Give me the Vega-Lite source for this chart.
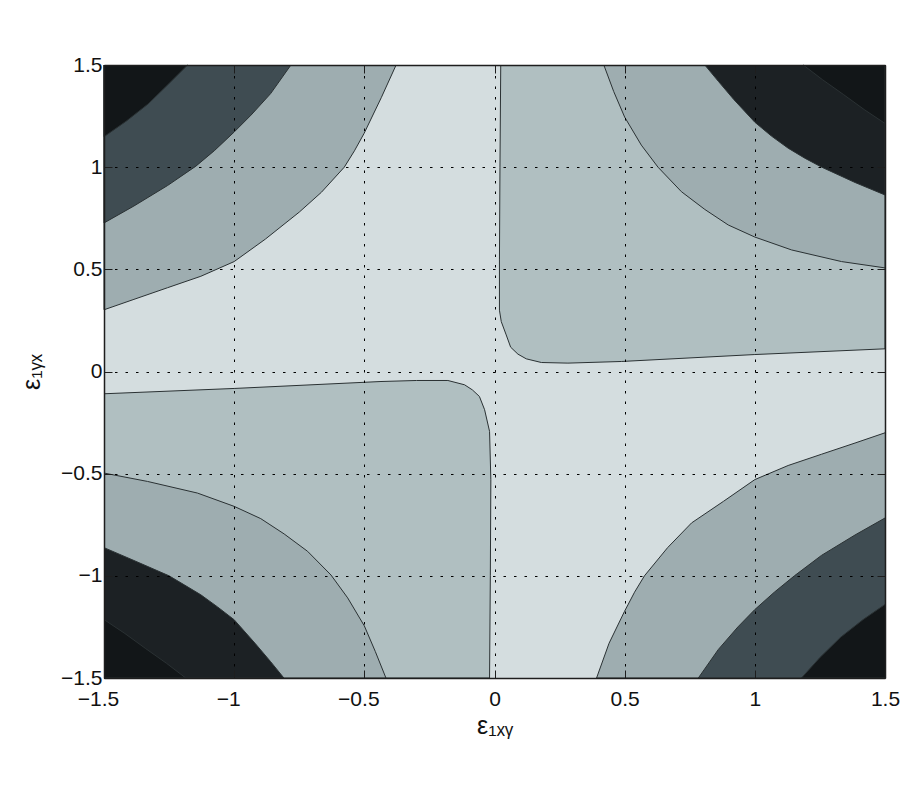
{
  "$schema": "https://vega.github.io/schema/vega-lite/v6.json",
  "width": 781,
  "height": 613,
  "autosize": {"type": "none"},
  "padding": {"left": 104, "top": 65, "right": 15, "bottom": 122},
  "config": {
    "view": {"fill": "#d4dddf", "stroke": null},
    "font": "Liberation Sans",
    "axis": {
      "labelFont": "Liberation Sans",
      "titleFont": "Liberation Sans",
      "labelFontSize": 21,
      "labelColor": "#111111",
      "titleFontSize": 25,
      "titleFontWeight": "normal",
      "titleColor": "#111111",
      "domainColor": "#1e1e1e",
      "domainWidth": 1.5,
      "tickColor": "#1e1e1e",
      "tickWidth": 1,
      "tickSize": -8,
      "gridColor": "#000000",
      "gridOpacity": 1,
      "gridWidth": 1,
      "gridDash": [2.5, 8],
      "labelFlush": false,
      "labelOverlap": false
    }
  },
  "data": {
    "values": [
      {"p": "UR1", "lv": "L1", "i": 0, "x": 0.024, "y": 1.5},
      {"p": "UR1", "lv": "L1", "i": 1, "x": 0.021, "y": 1.0},
      {"p": "UR1", "lv": "L1", "i": 2, "x": 0.019, "y": 0.546},
      {"p": "UR1", "lv": "L1", "i": 3, "x": 0.019, "y": 0.3},
      {"p": "UR1", "lv": "L1", "i": 4, "x": 0.026, "y": 0.244},
      {"p": "UR1", "lv": "L1", "i": 5, "x": 0.045, "y": 0.179},
      {"p": "UR1", "lv": "L1", "i": 6, "x": 0.062, "y": 0.119},
      {"p": "UR1", "lv": "L1", "i": 7, "x": 0.09, "y": 0.085},
      {"p": "UR1", "lv": "L1", "i": 8, "x": 0.122, "y": 0.062},
      {"p": "UR1", "lv": "L1", "i": 9, "x": 0.18, "y": 0.044},
      {"p": "UR1", "lv": "L1", "i": 10, "x": 0.282, "y": 0.041},
      {"p": "UR1", "lv": "L1", "i": 11, "x": 0.487, "y": 0.049},
      {"p": "UR1", "lv": "L1", "i": 12, "x": 1.0, "y": 0.083},
      {"p": "UR1", "lv": "L1", "i": 13, "x": 1.5, "y": 0.111},
      {"p": "UR1", "lv": "L1", "i": 14, "x": 1.5, "y": 1.5},

      {"p": "LL1", "lv": "L1", "i": 0, "x": -1.5, "y": -0.109},
      {"p": "LL1", "lv": "L1", "i": 1, "x": -1.0, "y": -0.083},
      {"p": "LL1", "lv": "L1", "i": 2, "x": -0.436, "y": -0.049},
      {"p": "LL1", "lv": "L1", "i": 3, "x": -0.3, "y": -0.044},
      {"p": "LL1", "lv": "L1", "i": 4, "x": -0.179, "y": -0.044},
      {"p": "LL1", "lv": "L1", "i": 5, "x": -0.115, "y": -0.065},
      {"p": "LL1", "lv": "L1", "i": 6, "x": -0.085, "y": -0.09},
      {"p": "LL1", "lv": "L1", "i": 7, "x": -0.058, "y": -0.122},
      {"p": "LL1", "lv": "L1", "i": 8, "x": -0.038, "y": -0.187},
      {"p": "LL1", "lv": "L1", "i": 9, "x": -0.019, "y": -0.293},
      {"p": "LL1", "lv": "L1", "i": 10, "x": -0.014, "y": -0.53},
      {"p": "LL1", "lv": "L1", "i": 11, "x": -0.016, "y": -1.0},
      {"p": "LL1", "lv": "L1", "i": 12, "x": -0.019, "y": -1.5},
      {"p": "LL1", "lv": "L1", "i": 13, "x": -1.5, "y": -1.5},

      {"p": "UR2", "lv": "L2", "i": 0, "x": 0.42, "y": 1.5},
      {"p": "UR2", "lv": "L2", "i": 1, "x": 0.458, "y": 1.37},
      {"p": "UR2", "lv": "L2", "i": 2, "x": 0.5, "y": 1.245},
      {"p": "UR2", "lv": "L2", "i": 3, "x": 0.564, "y": 1.108},
      {"p": "UR2", "lv": "L2", "i": 4, "x": 0.628, "y": 1.0},
      {"p": "UR2", "lv": "L2", "i": 5, "x": 0.718, "y": 0.88},
      {"p": "UR2", "lv": "L2", "i": 6, "x": 0.808, "y": 0.793},
      {"p": "UR2", "lv": "L2", "i": 7, "x": 0.898, "y": 0.717},
      {"p": "UR2", "lv": "L2", "i": 8, "x": 1.0, "y": 0.658},
      {"p": "UR2", "lv": "L2", "i": 9, "x": 1.141, "y": 0.595},
      {"p": "UR2", "lv": "L2", "i": 10, "x": 1.333, "y": 0.538},
      {"p": "UR2", "lv": "L2", "i": 11, "x": 1.5, "y": 0.507},
      {"p": "UR2", "lv": "L2", "i": 12, "x": 1.5, "y": 1.5},

      {"p": "LL2", "lv": "L2", "i": 0, "x": -1.5, "y": -0.497},
      {"p": "LL2", "lv": "L2", "i": 1, "x": -1.333, "y": -0.538},
      {"p": "LL2", "lv": "L2", "i": 2, "x": -1.141, "y": -0.595},
      {"p": "LL2", "lv": "L2", "i": 3, "x": -1.0, "y": -0.66},
      {"p": "LL2", "lv": "L2", "i": 4, "x": -0.898, "y": -0.72},
      {"p": "LL2", "lv": "L2", "i": 5, "x": -0.808, "y": -0.795},
      {"p": "LL2", "lv": "L2", "i": 6, "x": -0.718, "y": -0.88},
      {"p": "LL2", "lv": "L2", "i": 7, "x": -0.628, "y": -0.996},
      {"p": "LL2", "lv": "L2", "i": 8, "x": -0.564, "y": -1.108},
      {"p": "LL2", "lv": "L2", "i": 9, "x": -0.5, "y": -1.245},
      {"p": "LL2", "lv": "L2", "i": 10, "x": -0.458, "y": -1.37},
      {"p": "LL2", "lv": "L2", "i": 11, "x": -0.417, "y": -1.5},
      {"p": "LL2", "lv": "L2", "i": 12, "x": -1.5, "y": -1.5},

      {"p": "UL2", "lv": "L2", "i": 0, "x": -0.378, "y": 1.5},
      {"p": "UL2", "lv": "L2", "i": 1, "x": -0.435, "y": 1.34},
      {"p": "UL2", "lv": "L2", "i": 2, "x": -0.501, "y": 1.165},
      {"p": "UL2", "lv": "L2", "i": 3, "x": -0.538, "y": 1.08},
      {"p": "UL2", "lv": "L2", "i": 4, "x": -0.577, "y": 1.0},
      {"p": "UL2", "lv": "L2", "i": 5, "x": -0.665, "y": 0.877},
      {"p": "UL2", "lv": "L2", "i": 6, "x": -0.75, "y": 0.78},
      {"p": "UL2", "lv": "L2", "i": 7, "x": -0.88, "y": 0.648},
      {"p": "UL2", "lv": "L2", "i": 8, "x": -1.0, "y": 0.538},
      {"p": "UL2", "lv": "L2", "i": 9, "x": -1.128, "y": 0.466},
      {"p": "UL2", "lv": "L2", "i": 10, "x": -1.256, "y": 0.41},
      {"p": "UL2", "lv": "L2", "i": 11, "x": -1.385, "y": 0.353},
      {"p": "UL2", "lv": "L2", "i": 12, "x": -1.5, "y": 0.302},
      {"p": "UL2", "lv": "L2", "i": 13, "x": -1.5, "y": 1.5},

      {"p": "LR2", "lv": "L2", "i": 0, "x": 1.5, "y": -0.3},
      {"p": "LR2", "lv": "L2", "i": 1, "x": 1.385, "y": -0.35},
      {"p": "LR2", "lv": "L2", "i": 2, "x": 1.256, "y": -0.405},
      {"p": "LR2", "lv": "L2", "i": 3, "x": 1.128, "y": -0.46},
      {"p": "LR2", "lv": "L2", "i": 4, "x": 1.0, "y": -0.529},
      {"p": "LR2", "lv": "L2", "i": 5, "x": 0.88, "y": -0.635},
      {"p": "LR2", "lv": "L2", "i": 6, "x": 0.757, "y": -0.741},
      {"p": "LR2", "lv": "L2", "i": 7, "x": 0.665, "y": -0.862},
      {"p": "LR2", "lv": "L2", "i": 8, "x": 0.576, "y": -1.0},
      {"p": "LR2", "lv": "L2", "i": 9, "x": 0.538, "y": -1.08},
      {"p": "LR2", "lv": "L2", "i": 10, "x": 0.499, "y": -1.175},
      {"p": "LR2", "lv": "L2", "i": 11, "x": 0.44, "y": -1.33},
      {"p": "LR2", "lv": "L2", "i": 12, "x": 0.392, "y": -1.5},
      {"p": "LR2", "lv": "L2", "i": 13, "x": 1.5, "y": -1.5},

      {"p": "UL3", "lv": "L3", "i": 0, "x": -0.782, "y": 1.5},
      {"p": "UL3", "lv": "L3", "i": 1, "x": -0.86, "y": 1.36},
      {"p": "UL3", "lv": "L3", "i": 2, "x": -0.935, "y": 1.255},
      {"p": "UL3", "lv": "L3", "i": 3, "x": -1.0, "y": 1.172},
      {"p": "UL3", "lv": "L3", "i": 4, "x": -1.075, "y": 1.082},
      {"p": "UL3", "lv": "L3", "i": 5, "x": -1.147, "y": 1.005},
      {"p": "UL3", "lv": "L3", "i": 6, "x": -1.256, "y": 0.91},
      {"p": "UL3", "lv": "L3", "i": 7, "x": -1.385, "y": 0.81},
      {"p": "UL3", "lv": "L3", "i": 8, "x": -1.5, "y": 0.727},
      {"p": "UL3", "lv": "L3", "i": 9, "x": -1.5, "y": 1.5},

      {"p": "LR3", "lv": "L3", "i": 0, "x": 1.5, "y": -0.717},
      {"p": "LR3", "lv": "L3", "i": 1, "x": 1.385, "y": -0.8},
      {"p": "LR3", "lv": "L3", "i": 2, "x": 1.256, "y": -0.9},
      {"p": "LR3", "lv": "L3", "i": 3, "x": 1.152, "y": -1.0},
      {"p": "LR3", "lv": "L3", "i": 4, "x": 1.075, "y": -1.08},
      {"p": "LR3", "lv": "L3", "i": 5, "x": 1.0, "y": -1.165},
      {"p": "LR3", "lv": "L3", "i": 6, "x": 0.935, "y": -1.25},
      {"p": "LR3", "lv": "L3", "i": 7, "x": 0.86, "y": -1.36},
      {"p": "LR3", "lv": "L3", "i": 8, "x": 0.783, "y": -1.5},
      {"p": "LR3", "lv": "L3", "i": 9, "x": 1.5, "y": -1.5},

      {"p": "UR4", "lv": "L4", "i": 0, "x": 0.808, "y": 1.5},
      {"p": "UR4", "lv": "L4", "i": 1, "x": 0.86, "y": 1.42},
      {"p": "UR4", "lv": "L4", "i": 2, "x": 0.92, "y": 1.33},
      {"p": "UR4", "lv": "L4", "i": 3, "x": 1.0, "y": 1.22},
      {"p": "UR4", "lv": "L4", "i": 4, "x": 1.064, "y": 1.152},
      {"p": "UR4", "lv": "L4", "i": 5, "x": 1.128, "y": 1.093},
      {"p": "UR4", "lv": "L4", "i": 6, "x": 1.192, "y": 1.044},
      {"p": "UR4", "lv": "L4", "i": 7, "x": 1.257, "y": 1.0},
      {"p": "UR4", "lv": "L4", "i": 8, "x": 1.385, "y": 0.925},
      {"p": "UR4", "lv": "L4", "i": 9, "x": 1.5, "y": 0.864},
      {"p": "UR4", "lv": "L4", "i": 10, "x": 1.5, "y": 1.5},

      {"p": "LL4", "lv": "L4", "i": 0, "x": -1.5, "y": -0.862},
      {"p": "LL4", "lv": "L4", "i": 1, "x": -1.385, "y": -0.925},
      {"p": "LL4", "lv": "L4", "i": 2, "x": -1.25, "y": -1.0},
      {"p": "LL4", "lv": "L4", "i": 3, "x": -1.192, "y": -1.044},
      {"p": "LL4", "lv": "L4", "i": 4, "x": -1.128, "y": -1.093},
      {"p": "LL4", "lv": "L4", "i": 5, "x": -1.064, "y": -1.152},
      {"p": "LL4", "lv": "L4", "i": 6, "x": -1.0, "y": -1.215},
      {"p": "LL4", "lv": "L4", "i": 7, "x": -0.92, "y": -1.33},
      {"p": "LL4", "lv": "L4", "i": 8, "x": -0.86, "y": -1.42},
      {"p": "LL4", "lv": "L4", "i": 9, "x": -0.809, "y": -1.5},
      {"p": "LL4", "lv": "L4", "i": 10, "x": -1.5, "y": -1.5},

      {"p": "UR5", "lv": "L5", "i": 0, "x": 1.186, "y": 1.5},
      {"p": "UR5", "lv": "L5", "i": 1, "x": 1.26, "y": 1.428},
      {"p": "UR5", "lv": "L5", "i": 2, "x": 1.34, "y": 1.356},
      {"p": "UR5", "lv": "L5", "i": 3, "x": 1.42, "y": 1.282},
      {"p": "UR5", "lv": "L5", "i": 4, "x": 1.5, "y": 1.214},
      {"p": "UR5", "lv": "L5", "i": 5, "x": 1.5, "y": 1.5},

      {"p": "LL5", "lv": "L5", "i": 0, "x": -1.5, "y": -1.214},
      {"p": "LL5", "lv": "L5", "i": 1, "x": -1.42, "y": -1.282},
      {"p": "LL5", "lv": "L5", "i": 2, "x": -1.34, "y": -1.356},
      {"p": "LL5", "lv": "L5", "i": 3, "x": -1.26, "y": -1.428},
      {"p": "LL5", "lv": "L5", "i": 4, "x": -1.186, "y": -1.5},
      {"p": "LL5", "lv": "L5", "i": 5, "x": -1.5, "y": -1.5},

      {"p": "UL5", "lv": "L5", "i": 0, "x": -1.179, "y": 1.5},
      {"p": "UL5", "lv": "L5", "i": 1, "x": -1.25, "y": 1.41},
      {"p": "UL5", "lv": "L5", "i": 2, "x": -1.33, "y": 1.31},
      {"p": "UL5", "lv": "L5", "i": 3, "x": -1.415, "y": 1.225},
      {"p": "UL5", "lv": "L5", "i": 4, "x": -1.5, "y": 1.149},
      {"p": "UL5", "lv": "L5", "i": 5, "x": -1.5, "y": 1.5},

      {"p": "LR5", "lv": "L5", "i": 0, "x": 1.5, "y": -1.14},
      {"p": "LR5", "lv": "L5", "i": 1, "x": 1.415, "y": -1.215},
      {"p": "LR5", "lv": "L5", "i": 2, "x": 1.33, "y": -1.3},
      {"p": "LR5", "lv": "L5", "i": 3, "x": 1.25, "y": -1.4},
      {"p": "LR5", "lv": "L5", "i": 4, "x": 1.179, "y": -1.5},
      {"p": "LR5", "lv": "L5", "i": 5, "x": 1.5, "y": -1.5}
    ]
  },
  "layer": [
    {
      "encoding": {
        "x": {
          "field": "x", "type": "quantitative",
          "scale": {"domain": [-1.5, 1.5], "nice": false, "zero": false},
          "axis": {
            "orient": "bottom",
            "values": [-1.5, -1, -0.5, 0, 0.5, 1, 1.5],
            "format": "~g",
            "grid": true,
            "zindex": 1,
            "labelPadding": 18,
            "labelOffset": {"condition": {"test": "datum.value < 0", "value": -6}, "value": 0},
            "title": "ε₁ₓᵧ",
            "titlePadding": 4
          }
        },
        "y": {
          "field": "y", "type": "quantitative",
          "scale": {"domain": [-1.5, 1.5], "nice": false, "zero": false},
          "axis": {
            "orient": "left",
            "values": [-1.5, -1, -0.5, 0, 0.5, 1, 1.5],
            "format": "~g",
            "grid": true,
            "zindex": 1,
            "labelPadding": 10,
            "title": "ε₁ᵧₓ",
            "titlePadding": 16
          }
        },
        "fill": {
          "field": "lv", "type": "nominal",
          "scale": {"domain": ["L1", "L2", "L3", "L4", "L5"], "range": ["#b0bfc1", "#9eadb0", "#3f4c52", "#1c2124", "#121618"]},
          "legend": null
        },
        "detail": {"field": "p"},
        "order": {"field": "i", "type": "quantitative"}
      },
      "layer": [
        {"transform": [{"filter": "datum.lv == 'L1'"}], "mark": {"type": "line", "stroke": "#2a3133", "strokeWidth": 1, "strokeJoin": "round"}},
        {"transform": [{"filter": "datum.lv == 'L2'"}], "mark": {"type": "line", "stroke": "#2a3133", "strokeWidth": 1, "strokeJoin": "round"}},
        {"transform": [{"filter": "datum.lv == 'L3'"}], "mark": {"type": "line", "stroke": "#2a3133", "strokeWidth": 1, "strokeJoin": "round"}},
        {"transform": [{"filter": "datum.lv == 'L4'"}], "mark": {"type": "line", "stroke": "#2a3133", "strokeWidth": 1, "strokeJoin": "round"}},
        {"transform": [{"filter": "datum.lv == 'L5'"}], "mark": {"type": "line", "stroke": "#2a3133", "strokeWidth": 1, "strokeJoin": "round"}}
      ]
    },
    {
      "mark": {"type": "point", "opacity": 0},
      "encoding": {
        "x": {
          "field": "x", "type": "quantitative",
          "scale": {"domain": [-1.5, 1.5], "nice": false, "zero": false},
          "axis": {"orient": "top", "values": [-1.5, -1, -0.5, 0, 0.5, 1, 1.5], "labels": false, "grid": false, "title": null, "zindex": 1}
        },
        "y": {
          "field": "y", "type": "quantitative",
          "scale": {"domain": [-1.5, 1.5], "nice": false, "zero": false},
          "axis": {"orient": "right", "values": [-1.5, -1, -0.5, 0, 0.5, 1, 1.5], "labels": false, "grid": false, "title": null, "zindex": 1}
        }
      }
    }
  ],
  "resolve": {"axis": {"x": "independent", "y": "independent"}}
}
